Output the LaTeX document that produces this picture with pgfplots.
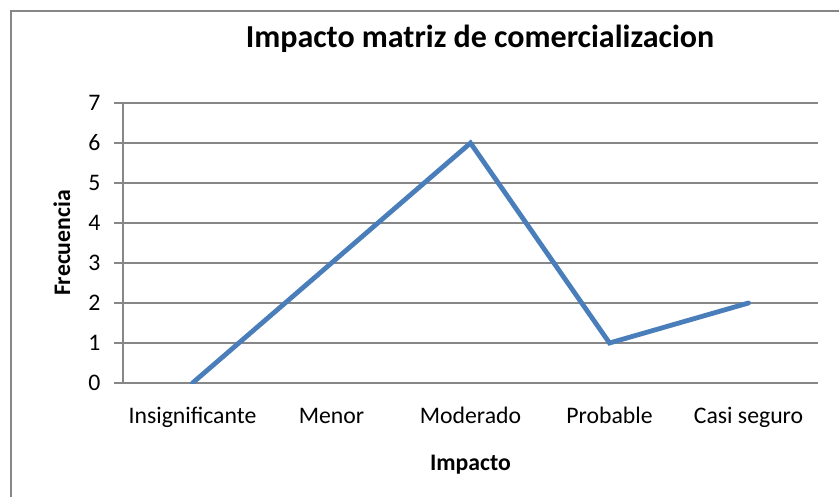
\documentclass[border=0pt]{standalone}
\usepackage{pgfplots}
\pgfplotsset{compat=1.18}
\usepackage{fontspec}
\setmainfont{Carlito}
\definecolor{serie}{HTML}{4A7EBB}
\definecolor{rejilla}{HTML}{878787}
\begin{document}
\begin{tikzpicture}
% marco del grafico (recortado como en la captura)
\path[use as bounding box] (0,0) rectangle (629.25pt,372.75pt);
\draw[rejilla, line width=1.2pt] (8.25pt,0) -- (8.25pt,364.5pt) -- (629.25pt,364.5pt);
\node[font=\bfseries\fontsize{24}{28}\selectfont] at (360pt,344pt) {Impacto matriz de comercializacion};
\begin{axis}[
    at={(92.25pt,85.5pt)}, anchor=south west,
    scale only axis,
    width=521.25pt, height=210pt,
    xmin=-0.5, xmax=4.5,
    ymin=0, ymax=7,
    xtick={0,...,4},
    xticklabels={Insignificante,Menor,Moderado,Probable,Casi seguro},
    ytick={0,...,7},
    ymajorgrids,
    grid style={rejilla, line width=1.1pt},
    axis x line*=bottom, axis y line*=left,
    axis line style={rejilla, line width=1.1pt, -},
    x tick style={draw=none},
    y tick style={rejilla, line width=1.1pt},
    tick align=outside,
    major tick length=6.5pt,
    /pgf/number format/assume math mode=true,
    tick label style={font=\fontsize{17.8}{21}\selectfont},
    xticklabel style={yshift=-7pt, text height=13pt, text depth=4pt},
    yticklabel style={xshift=-7pt},
    xlabel={Impacto}, ylabel={Frecuencia},
    label style={font=\bfseries\fontsize{17.8}{21}\selectfont},
    xlabel style={at={(axis description cs:0.5,0)}, anchor=center, yshift=-61pt},
    ylabel style={at={(axis description cs:0,0.5)}, anchor=center, rotate=0, yshift=45.75pt},
]
\addplot[serie, line width=3.6pt, line join=miter, line cap=round] coordinates {
    (0,0) (1,3) (2,6) (3,1) (4,2)
};
\end{axis}
\end{tikzpicture}
\end{document}
